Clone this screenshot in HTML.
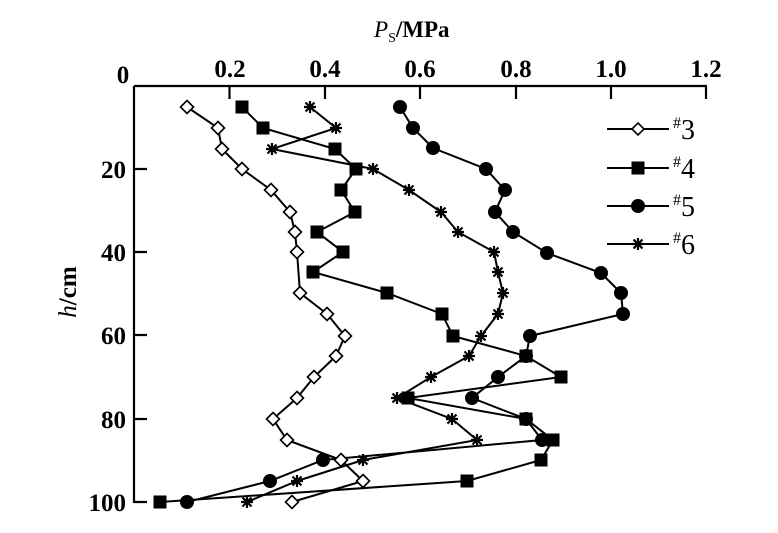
<!DOCTYPE html>
<html><head><meta charset="utf-8"><style>
html,body{margin:0;padding:0;background:#fff;}
svg{display:block;}
text{font-family:"Liberation Serif",serif;fill:#000;}
</style></head><body>
<svg width="778" height="533" viewBox="0 0 778 533" xmlns="http://www.w3.org/2000/svg">
<defs>
<g id="dia"><path d="M0,-6.5 L6.5,0 L0,6.5 L-6.5,0 Z" fill="#fff" stroke="#000" stroke-width="1.6"/></g>
<g id="sq"><rect x="-6.5" y="-6.5" width="13" height="13" fill="#000"/></g>
<g id="ci"><circle r="7" fill="#000"/></g>
<g id="st" stroke="#000" stroke-width="2.2"><path d="M-6,0H6M0,-6V6M-4.5,-4.5L4.5,4.5M-4.5,4.5L4.5,-4.5"/></g>
</defs>
<g stroke="#000" stroke-width="2.2" fill="none">
<path d="M134,86 H707 M134,86 V503"/>
<path d="M229.5,86v13 M325,86v13 M420,86v13 M516,86v13 M611,86v13 M706,86v13"/>
<path d="M134,169h13 M134,252h13 M134,335h13 M134,419h13 M134,502h13"/>
</g>
<g font-size="25" font-weight="bold" text-anchor="middle">
<text x="123" y="83">0</text>
<text x="230" y="77">0.2</text>
<text x="325" y="77">0.4</text>
<text x="420" y="77">0.6</text>
<text x="516" y="77">0.8</text>
<text x="611" y="77">1.0</text>
<text x="706" y="77">1.2</text>
</g>
<g font-size="25" font-weight="bold" text-anchor="end">
<text x="126" y="178">20</text>
<text x="126" y="261">40</text>
<text x="126" y="344">60</text>
<text x="126" y="428">80</text>
<text x="126" y="511">100</text>
</g>
<text x="374" y="37" font-size="23" font-weight="bold"><tspan font-style="italic" font-weight="normal">P</tspan><tspan font-size="14" font-weight="normal" dy="5">S</tspan><tspan dy="-5">/MPa</tspan></text>
<text transform="translate(76,292) rotate(-90)" font-size="25" text-anchor="middle" font-weight="bold"><tspan font-style="italic" font-weight="normal">h</tspan>/cm</text>

<g fill="none" stroke="#000" stroke-width="2">
<polyline points="187,107 218,128 222,149 242,169 271,190 290,212 295,232 297,252 300,293 327,314 345,336 336,356 314,377 297,398 273,419 287,440 341,460 363,481 292,502"/>
<polyline points="242,107 263,128 335,149 356,169 341,190 355,212 317,232 343,252 313,272 387,293 442,314 453,336 526,356 561,377 408,398 526,419 553,440 541,460 467,481 160,502"/>
<polyline points="400,107 413,128 433,148 486,169 505,190 495,212 513,232 547,253 601,273 621,293 623,314 530,336 526,356 498,377 472,398 526,419 542,440 323,460 270,481 187,502"/>
<polyline points="310,107 336,128 272,149 373,169 409,190 441,212 458,232 494,252 498,272 503,293 498,314 481,336 469,356 431,377 397,398 452,419 477,440 363,460 297,481 247,502"/>
</g>
<g>
<use href="#dia" x="187" y="107"/><use href="#dia" x="218" y="128"/><use href="#dia" x="222" y="149"/><use href="#dia" x="242" y="169"/><use href="#dia" x="271" y="190"/><use href="#dia" x="290" y="212"/><use href="#dia" x="295" y="232"/><use href="#dia" x="297" y="252"/><use href="#dia" x="300" y="293"/><use href="#dia" x="327" y="314"/><use href="#dia" x="345" y="336"/><use href="#dia" x="336" y="356"/><use href="#dia" x="314" y="377"/><use href="#dia" x="297" y="398"/><use href="#dia" x="273" y="419"/><use href="#dia" x="287" y="440"/><use href="#dia" x="341" y="460"/><use href="#dia" x="363" y="481"/><use href="#dia" x="292" y="502"/>
<use href="#sq" x="242" y="107"/><use href="#sq" x="263" y="128"/><use href="#sq" x="335" y="149"/><use href="#sq" x="356" y="169"/><use href="#sq" x="341" y="190"/><use href="#sq" x="355" y="212"/><use href="#sq" x="317" y="232"/><use href="#sq" x="343" y="252"/><use href="#sq" x="313" y="272"/><use href="#sq" x="387" y="293"/><use href="#sq" x="442" y="314"/><use href="#sq" x="453" y="336"/><use href="#sq" x="526" y="356"/><use href="#sq" x="561" y="377"/><use href="#sq" x="408" y="398"/><use href="#sq" x="526" y="419"/><use href="#sq" x="553" y="440"/><use href="#sq" x="541" y="460"/><use href="#sq" x="467" y="481"/><use href="#sq" x="160" y="502"/>
<use href="#ci" x="400" y="107"/><use href="#ci" x="413" y="128"/><use href="#ci" x="433" y="148"/><use href="#ci" x="486" y="169"/><use href="#ci" x="505" y="190"/><use href="#ci" x="495" y="212"/><use href="#ci" x="513" y="232"/><use href="#ci" x="547" y="253"/><use href="#ci" x="601" y="273"/><use href="#ci" x="621" y="293"/><use href="#ci" x="623" y="314"/><use href="#ci" x="530" y="336"/><use href="#ci" x="526" y="356"/><use href="#ci" x="498" y="377"/><use href="#ci" x="472" y="398"/><use href="#ci" x="526" y="419"/><use href="#ci" x="542" y="440"/><use href="#ci" x="323" y="460"/><use href="#ci" x="270" y="481"/><use href="#ci" x="187" y="502"/>
<use href="#st" x="310" y="107"/><use href="#st" x="336" y="128"/><use href="#st" x="272" y="149"/><use href="#st" x="373" y="169"/><use href="#st" x="409" y="190"/><use href="#st" x="441" y="212"/><use href="#st" x="458" y="232"/><use href="#st" x="494" y="252"/><use href="#st" x="498" y="272"/><use href="#st" x="503" y="293"/><use href="#st" x="498" y="314"/><use href="#st" x="481" y="336"/><use href="#st" x="469" y="356"/><use href="#st" x="431" y="377"/><use href="#st" x="397" y="398"/><use href="#st" x="452" y="419"/><use href="#st" x="477" y="440"/><use href="#st" x="363" y="460"/><use href="#st" x="297" y="481"/><use href="#st" x="247" y="502"/>
</g>
<g stroke="#000" stroke-width="2">
<path d="M607,129H669 M607,168H669 M607,206H669 M607,244H669"/>
</g>
<path d="M638,123 L644,129 L638,135 L632,129 Z" fill="#fff" stroke="#000" stroke-width="1.6"/>
<use href="#sq" x="638" y="168"/>
<use href="#ci" x="638" y="206"/>
<use href="#st" x="638" y="244"/>
<g font-size="28">
<text x="673" y="139"><tspan font-size="16" dy="-11">#</tspan><tspan dy="11">3</tspan></text>
<text x="673" y="178"><tspan font-size="16" dy="-11">#</tspan><tspan dy="11">4</tspan></text>
<text x="673" y="216"><tspan font-size="16" dy="-11">#</tspan><tspan dy="11">5</tspan></text>
<text x="673" y="254"><tspan font-size="16" dy="-11">#</tspan><tspan dy="11">6</tspan></text>
</g>
</svg>
</body></html>
